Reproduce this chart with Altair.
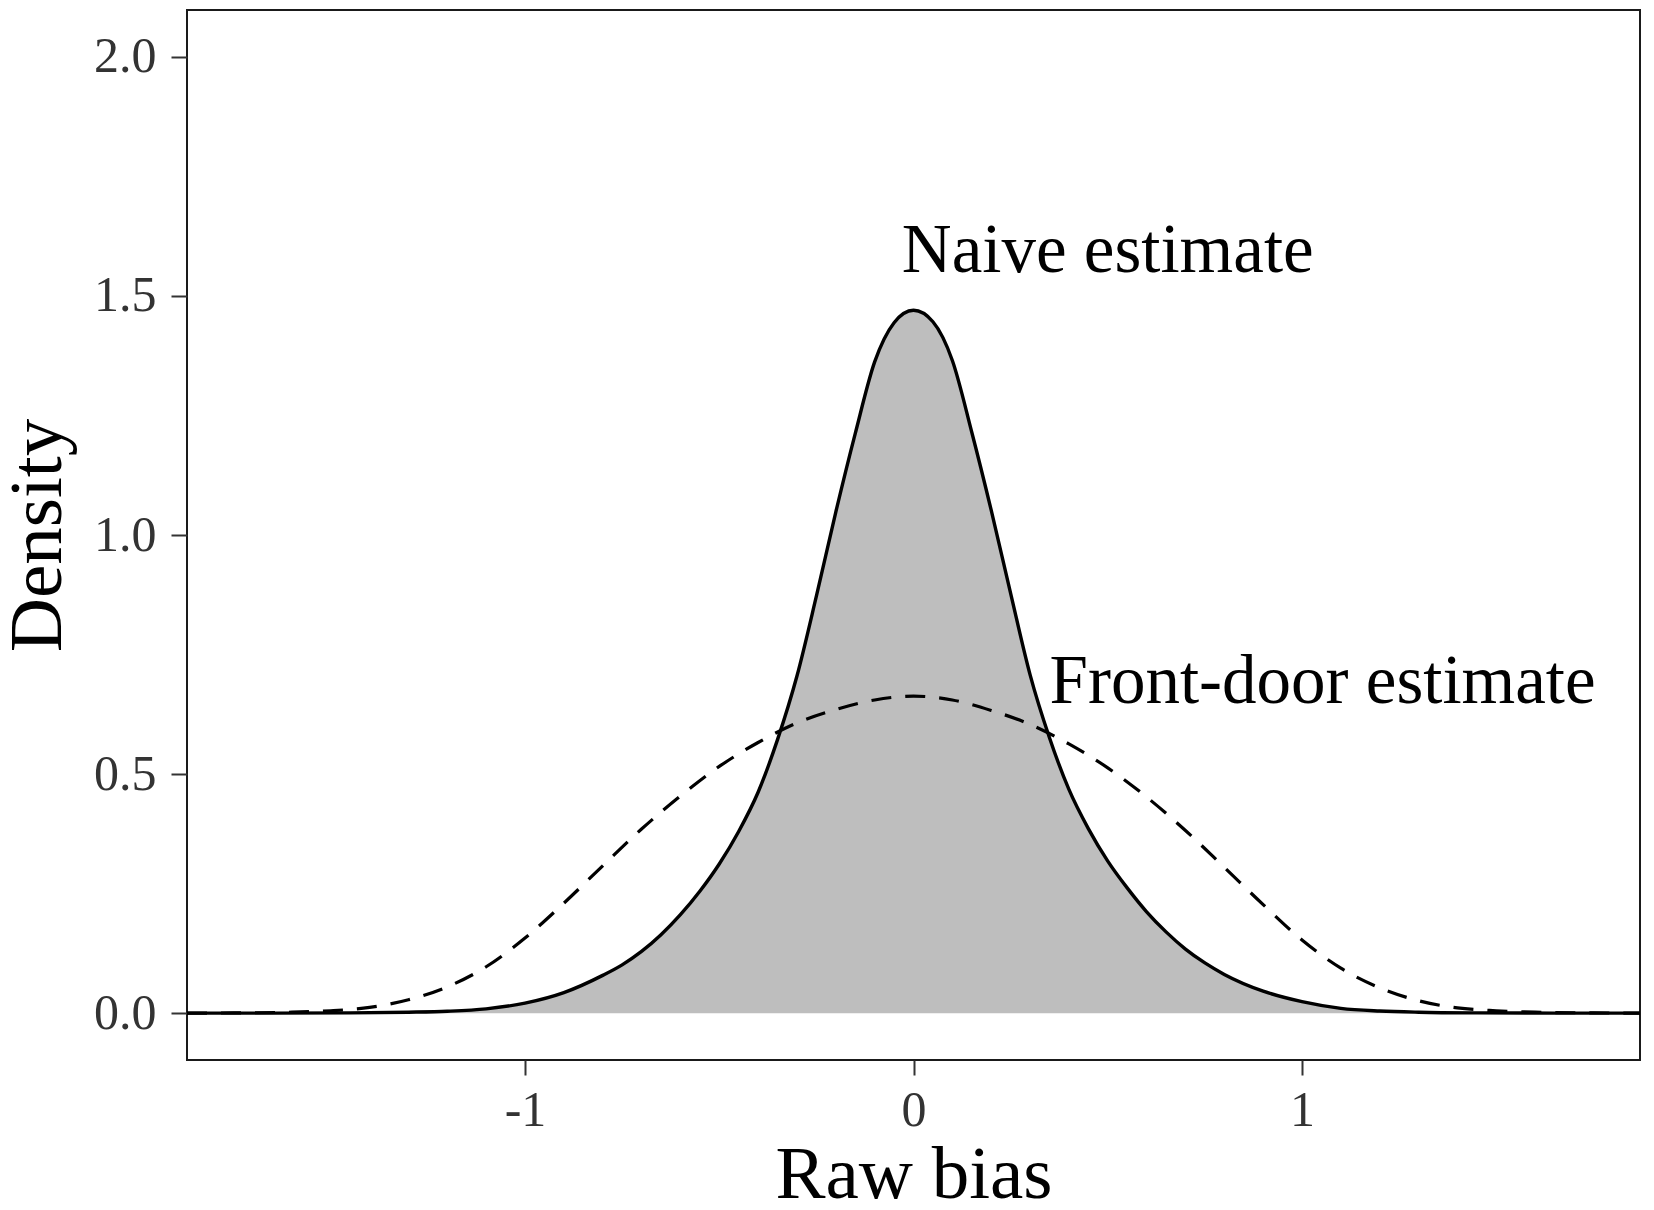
import altair as alt
import pandas as pd

# Naive estimate density (solid, filled)
naive_x = [-1.87, -1.65, -1.45, -1.3, -1.2, -1.1, -1.0, -0.9, -0.8, -0.75, -0.7, -0.65, -0.6,
           -0.55, -0.5, -0.45, -0.4, -0.35, -0.3, -0.25, -0.2, -0.15, -0.1, -0.05, 0.0,
           0.05, 0.1, 0.15, 0.2, 0.25, 0.3, 0.35, 0.4, 0.45, 0.5, 0.55, 0.6, 0.65, 0.7,
           0.75, 0.8, 0.9, 1.0, 1.1, 1.2, 1.3, 1.45, 1.65, 1.87]
naive_y = [0.0, 0.0001, 0.0006, 0.002, 0.004, 0.009, 0.021, 0.043, 0.079, 0.101, 0.129, 0.164, 0.206,
           0.255, 0.312, 0.380, 0.462, 0.572, 0.705, 0.872, 1.048, 1.212, 1.362, 1.444, 1.470,
           1.446, 1.365, 1.215, 1.052, 0.878, 0.708, 0.576, 0.468, 0.386, 0.318, 0.262, 0.212, 0.170, 0.134,
           0.105, 0.081, 0.046, 0.024, 0.010, 0.0045, 0.002, 0.0006, 0.0001, 0.0]

# Front-door estimate density (dashed)
front_x = [-1.87, -1.75, -1.6, -1.5, -1.4, -1.3, -1.2, -1.1, -1.0, -0.9, -0.8, -0.7, -0.6,
           -0.5, -0.4, -0.3, -0.2, -0.1, 0.0, 0.1, 0.2, 0.3, 0.4, 0.5, 0.6, 0.7, 0.8,
           0.9, 1.0, 1.1, 1.2, 1.3, 1.4, 1.5, 1.6, 1.75, 1.87]
front_y = [0.0, 0.0005, 0.002, 0.005, 0.012, 0.028, 0.055, 0.097, 0.157, 0.230, 0.308, 0.385, 0.454,
           0.516, 0.566, 0.607, 0.635, 0.655, 0.663, 0.655, 0.633, 0.604, 0.563, 0.513, 0.452, 0.382, 0.305,
           0.227, 0.153, 0.094, 0.053, 0.026, 0.011, 0.005, 0.002, 0.0005, 0.0]

# Annotations
label_text = ["Naive estimate", "Front-door estimate"]
label_x = [0.5, 1.053]
label_y = [1.551, 0.649]

x_ticks = [-1, 0, 1]
y_ticks = [0.0, 0.5, 1.0, 1.5, 2.0]

naive = pd.DataFrame({"x": naive_x, "y": naive_y})
front = pd.DataFrame({"x": front_x, "y": front_y})
labels = pd.DataFrame({"text": label_text, "x": label_x, "y": label_y})

FONT = "Liberation Serif"
W, H = 1453, 1050

xscale = alt.Scale(domain=[-1.87, 1.87], nice=False, zero=False)
yscale = alt.Scale(domain=[-0.098, 2.098], nice=False, zero=False)

xaxis = alt.Axis(values=x_ticks, labelExpr="toString(datum.value)", title="Raw bias",
                 grid=False, domain=False, tickSize=15, tickWidth=2, tickColor="#333333",
                 labelFont=FONT, labelFontSize=50, labelColor="#333333", labelPadding=10,
                 titleFont=FONT, titleFontSize=75, titleFontWeight="normal", titleColor="black",
                 titleX=W / 2, titleY=137, titleBaseline="alphabetic", titleAlign="center")
yaxis = alt.Axis(values=y_ticks, format=".1f", title="Density",
                 grid=False, domain=False, tickSize=16, tickWidth=2, tickColor="#333333",
                 labelFont=FONT, labelFontSize=50, labelColor="#333333", labelPadding=15,
                 titleFont=FONT, titleFontSize=75, titleFontWeight="normal", titleColor="black",
                 titleX=-127, titleY=H / 2, titleAngle=270, titleBaseline="alphabetic",
                 titleAlign="center")

area = alt.Chart(naive).mark_area(color="#BEBEBE", interpolate="monotone").encode(
    x=alt.X("x:Q", scale=xscale, axis=xaxis),
    y=alt.Y("y:Q", scale=yscale, axis=yaxis),
)
solid = alt.Chart(naive).mark_line(color="black", strokeWidth=3.4, interpolate="monotone").encode(
    x=alt.X("x:Q", scale=xscale),
    y=alt.Y("y:Q", scale=yscale),
)
dashed = alt.Chart(front).mark_line(color="black", strokeWidth=3.2, strokeDash=[20, 14],
                                    interpolate="monotone").encode(
    x=alt.X("x:Q", scale=xscale),
    y=alt.Y("y:Q", scale=yscale),
)
text = alt.Chart(labels).mark_text(font=FONT, fontSize=69, align="center",
                                   baseline="alphabetic", color="black").encode(
    x=alt.X("x:Q", scale=xscale),
    y=alt.Y("y:Q", scale=yscale),
    text="text:N",
)

chart = alt.layer(area, solid, dashed, text).properties(
    width=W, height=H,
    autosize=alt.AutoSizeParams(type="none"),
    padding={"left": 179, "top": 2, "right": 6, "bottom": 150},
    background="white",
).configure_view(stroke="#1a1a1a", strokeWidth=2)

chart.save("out.html", embed_options={"renderer": "svg", "actions": False})
